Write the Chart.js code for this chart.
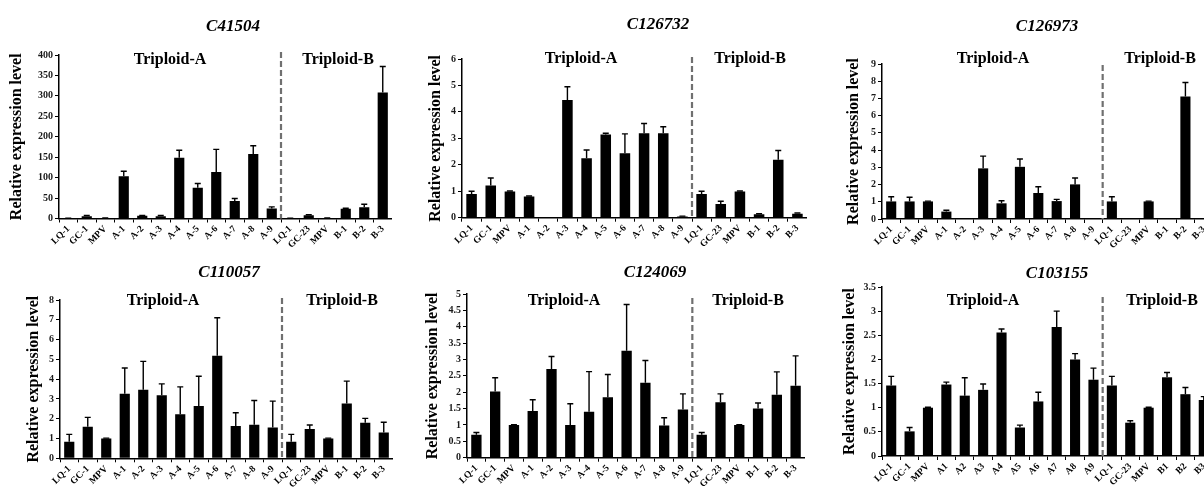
<!DOCTYPE html>
<html>
<head>
<meta charset="utf-8">
<title>Relative expression level</title>
<script src="https://cdn.jsdelivr.net/npm/chart.js@4.4.1/dist/chart.umd.min.js"></script>
<style>
  html, body { margin: 0; padding: 0; background: #fff; }
  body { width: 1204px; height: 489px; overflow: hidden; position: relative; }
  canvas { position: absolute; }
</style>
</head>
<body>
<script>
// sample names on the x axis (last panel drops the dash in A/B names)
const samplesDash = ["LQ-1", "GC-1", "MPV", "A-1", "A-2", "A-3", "A-4", "A-5", "A-6", "A-7", "A-8", "A-9",
  "LQ-1", "GC-23", "MPV", "B-1", "B-2", "B-3"];
const samplesPlain = ["LQ-1", "GC-1", "MPV", "A1", "A2", "A3", "A4", "A5", "A6", "A7", "A8", "A9",
  "LQ-1", "GC-23", "MPV", "B1", "B2", "B3"];

// mean expression and error (upper whisker length) per gene
const c41504Values = [0.4, 5.7, 1, 103.6, 6.5, 5.7, 148.5, 75, 114, 43, 158, 24.5, 0.4, 8, 1, 23.6, 27.7, 308];
const c41504Errors = [0.2, 1.5, 0.1, 12, 1, 1.5, 18.5, 10.5, 55, 6, 20, 4, 0.2, 1, 0.1, 1.5, 7, 64];

const c126732Values = [0.9, 1.22, 0.99, 0.8, 0, 4.45, 2.25, 3.15, 2.44, 3.19, 3.19, 0.05, 0.9, 0.52, 0.99, 0.13, 2.19, 0.15];
const c126732Errors = [0.1, 0.28, 0.02, 0.02, 0, 0.5, 0.31, 0.04, 0.73, 0.37, 0.25, 0.01, 0.1, 0.1, 0.02, 0.02, 0.35, 0.03];

const c126973Values = [1.02, 1.02, 1.02, 0.43, 0, 2.94, 0.91, 3.03, 1.51, 1.04, 2.01, 0, 1.02, 0.03, 1.02, 0.03, 7.11, 0.05];
const c126973Errors = [0.27, 0.24, 0.02, 0.08, 0, 0.71, 0.15, 0.45, 0.36, 0.1, 0.37, 0, 0.27, 0, 0.02, 0, 0.82, 0];

const c110057Values = [0.84, 1.6, 1.0, 3.26, 3.46, 3.19, 2.22, 2.64, 5.18, 1.63, 1.7, 1.56, 0.84, 1.48, 1.0, 2.77, 1.8, 1.31];
const c110057Errors = [0.37, 0.47, 0.02, 1.3, 1.44, 0.57, 1.39, 1.51, 1.92, 0.67, 1.22, 1.33, 0.37, 0.2, 0.02, 1.13, 0.22, 0.51];

const c124069Values = [0.7, 2.02, 1.0, 1.43, 2.71, 1.0, 1.4, 1.85, 3.27, 2.29, 0.98, 1.47, 0.7, 1.69, 1.0, 1.5, 1.92, 2.2];
const c124069Errors = [0.07, 0.42, 0.01, 0.34, 0.38, 0.65, 1.23, 0.69, 1.41, 0.68, 0.24, 0.48, 0.07, 0.26, 0.01, 0.17, 0.7, 0.91];

const c103155Values = [1.46, 0.51, 1.0, 1.48, 1.25, 1.37, 2.56, 0.59, 1.13, 2.67, 2.0, 1.58, 1.46, 0.69, 1.0, 1.63, 1.28, 1.16];
const c103155Errors = [0.19, 0.08, 0.01, 0.05, 0.37, 0.12, 0.07, 0.05, 0.19, 0.33, 0.12, 0.24, 0.19, 0.04, 0.01, 0.1, 0.14, 0.07];

const groupNames = ["Triploid-A", "Triploid-B"];
const yTitle = "Relative expression level";

const SERIF = '"Liberation Serif", "Times New Roman", serif';

// layout of the six panels, page coordinates
const panels = [
  { gene: "C41504", labels: samplesDash, values: c41504Values, errors: c41504Errors, max: 400, step: 50,
    left: 7, top: 0, width: 385, height: 250, axisW: 52, axisH: 31.5, padTop: 55,
    titleAt: [233, 27], groupA: [170, 60], groupB: [338, 60], dashTop: 52 },
  { gene: "C126732", labels: samplesDash, values: c126732Values, errors: c126732Errors, max: 6, step: 1,
    left: 426, top: 0, width: 381, height: 250, axisW: 36, axisH: 32.3, padTop: 59,
    titleAt: [658, 25], groupA: [581, 59], groupB: [750, 59], dashTop: 57 },
  { gene: "C126973", labels: samplesDash, values: c126973Values, errors: c126973Errors, max: 9, step: 1,
    left: 844, top: 0, width: 369, height: 250, axisW: 38, axisH: 31, padTop: 64,
    titleAt: [1047, 27], groupA: [993, 59], groupB: [1160, 59], dashTop: 65 },
  { gene: "C110057", labels: samplesDash, values: c110057Values, errors: c110057Errors, max: 8, step: 1,
    left: 24, top: 240, width: 369, height: 249, axisW: 36, axisH: 30.7, padTop: 60,
    titleAt: [229, 273], groupA: [163, 301], groupB: [342, 301], dashTop: 298 },
  { gene: "C124069", labels: samplesDash, values: c124069Values, errors: c124069Errors, max: 5, step: 0.5,
    left: 423, top: 240, width: 382, height: 249, axisW: 44, axisH: 31.3, padTop: 54,
    titleAt: [655, 273], groupA: [564, 301], groupB: [748, 301], dashTop: 298 },
  { gene: "C103155", labels: samplesPlain, values: c103155Values, errors: c103155Errors, max: 3.5, step: 0.5,
    left: 840, top: 240, width: 373, height: 249, axisW: 42, axisH: 33, padTop: 47,
    titleAt: [1057, 274], groupA: [983, 301], groupB: [1162, 301], dashTop: 297 },
];

// whiskers: vertical line from bar top up to mean+error, short cap
const errorBars = {
  id: "errorBars",
  afterDatasetsDraw(chart) {
    const { ctx } = chart;
    const y = chart.scales.y;
    const ds = chart.data.datasets[0];
    const meta = chart.getDatasetMeta(0);
    ctx.save();
    ctx.strokeStyle = "#000";
    ctx.lineWidth = 1.4;
    meta.data.forEach((bar, i) => {
      const e = ds.errors[i];
      if (!e) return;
      const yTop = y.getPixelForValue(ds.data[i] + e);
      ctx.beginPath();
      ctx.moveTo(bar.x, bar.y);
      ctx.lineTo(bar.x, yTop);
      ctx.moveTo(bar.x - 3, yTop);
      ctx.lineTo(bar.x + 3, yTop);
      ctx.stroke();
    });
    ctx.restore();
  },
};

// gene title, group names and dashed divider
const decor = {
  id: "decor",
  afterDraw(chart, args, o) {
    const { ctx } = chart;
    const xs = chart.scales.x;
    const ys = chart.scales.y;
    ctx.save();

    const dx = (xs.getPixelForValue(11) + xs.getPixelForValue(12)) / 2;
    ctx.strokeStyle = "#707070";
    ctx.lineWidth = 2.2;
    ctx.setLineDash([6, 3]);
    ctx.beginPath();
    ctx.moveTo(dx, o.dashTop - o.top);
    ctx.lineTo(dx, ys.bottom);
    ctx.stroke();
    ctx.setLineDash([]);

    ctx.fillStyle = "#000";
    ctx.textAlign = "center";
    ctx.textBaseline = "middle";
    ctx.font = "italic bold 17px " + SERIF;
    ctx.fillText(o.gene, o.titleAt[0] - o.left, o.titleAt[1] - o.top);
    ctx.font = "bold 16px " + SERIF;
    ctx.fillText(groupNames[0], o.groupA[0] - o.left, o.groupA[1] - o.top);
    ctx.fillText(groupNames[1], o.groupB[0] - o.left, o.groupB[1] - o.top);
    ctx.restore();
  },
};

function makePanel(p) {
  const canvas = document.createElement("canvas");
  canvas.width = p.width;
  canvas.height = p.height;
  canvas.style.left = p.left + "px";
  canvas.style.top = p.top + "px";
  canvas.style.width = p.width + "px";
  canvas.style.height = p.height + "px";
  document.body.appendChild(canvas);

  return new Chart(canvas.getContext("2d"), {
    type: "bar",
    data: {
      labels: p.labels,
      datasets: [{
        data: p.values,
        errors: p.errors,
        backgroundColor: "#000",
        borderWidth: 0,
        barPercentage: 0.55,
        categoryPercentage: 1,
      }],
    },
    options: {
      responsive: false,
      animation: false,
      devicePixelRatio: 1,
      layout: { padding: { top: p.padTop, left: 0, right: 0, bottom: 0 } },
      plugins: {
        legend: { display: false },
        title: { display: false },
        tooltip: { enabled: false },
        decor: { gene: p.gene, left: p.left, top: p.top, titleAt: p.titleAt,
          groupA: p.groupA, groupB: p.groupB, dashTop: p.dashTop },
      },
      scales: {
        x: {
          afterFit: (scale) => { scale.height = p.axisH; },
          border: { color: "#000", width: 1.5 },
          grid: { display: true, drawOnChartArea: false, drawTicks: true, tickLength: 4, color: "#000", lineWidth: 1 },
          ticks: {
            autoSkip: false,
            minRotation: 45,
            maxRotation: 45,
            padding: 1,
            color: "#000",
            font: { family: SERIF, size: 9.5, weight: "bold" },
          },
        },
        y: {
          min: 0,
          max: p.max,
          afterFit: (scale) => { scale.width = p.axisW; },
          border: { color: "#000", width: 1.5 },
          grid: { display: true, drawOnChartArea: false, drawTicks: true, tickLength: 4, color: "#000", lineWidth: 1 },
          ticks: {
            stepSize: p.step,
            padding: 2,
            color: "#1a1a1a",
            font: { family: SERIF, size: 10, weight: "bold" },
            callback: (v) => String(v),
          },
          title: {
            display: true,
            text: yTitle,
            color: "#000",
            padding: { top: 0, bottom: 0 },
            font: { family: SERIF, size: 16, weight: "bold" },
          },
        },
      },
    },
    plugins: [errorBars, decor],
  });
}

panels.forEach(makePanel);
</script>
</body>
</html>
